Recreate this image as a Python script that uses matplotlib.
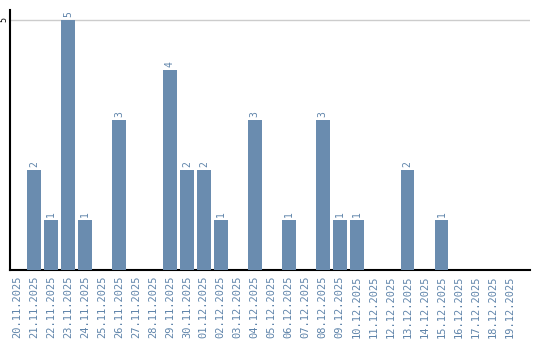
import matplotlib
matplotlib.use("Agg")
import matplotlib.pyplot as plt

dates = ["20.11.2025", "21.11.2025", "22.11.2025", "23.11.2025", "24.11.2025",
         "25.11.2025", "26.11.2025", "27.11.2025", "28.11.2025", "29.11.2025",
         "30.11.2025", "01.12.2025", "02.12.2025", "03.12.2025", "04.12.2025",
         "05.12.2025", "06.12.2025", "07.12.2025", "08.12.2025", "09.12.2025",
         "10.12.2025", "11.12.2025", "12.12.2025", "13.12.2025", "14.12.2025",
         "15.12.2025", "16.12.2025", "17.12.2025", "18.12.2025", "19.12.2025"]
counts = [0, 2, 1, 5, 1, 0, 3, 0, 0, 4, 2, 2, 1, 0, 3,
          0, 1, 0, 3, 1, 1, 0, 0, 2, 0, 1, 0, 0, 0, 0]

BAR = "#6a8caf"
TXT = "#5f84aa"

fig = plt.figure(figsize=(5.4, 3.4), dpi=100)
ax = fig.add_axes([0.0185, 0.206, 0.9625, 0.765])

x = list(range(len(dates)))
ax.bar(x, counts, width=0.82, color=BAR, zorder=3)
for xi, v in zip(x, counts):
    if v > 0:
        ax.text(xi, v + 0.05, str(v), rotation=90, ha="center", va="bottom",
                fontsize=7, color=TXT, family="DejaVu Sans Mono", zorder=4)

ax.set_xlim(-0.42, 30.2)
ax.set_ylim(0, 5.2)
ax.set_xticks(x)
ax.set_xticklabels(dates, rotation=90, fontsize=7.5, color=TXT,
                   family="DejaVu Sans Mono")
ax.set_yticks([5])
ax.set_yticklabels(["5"], rotation=90, fontsize=6, va="center",
                   family="DejaVu Sans Mono")
ax.tick_params(axis="x", length=0, pad=4)
ax.tick_params(axis="y", length=0, pad=1)
ax.grid(axis="y", color="#cccccc", lw=1, zorder=0)
for s in ["top", "right"]:
    ax.spines[s].set_visible(False)
ax.spines["left"].set_linewidth(1.5)
ax.spines["bottom"].set_linewidth(1.5)

fig.savefig("out.png", dpi=100)
